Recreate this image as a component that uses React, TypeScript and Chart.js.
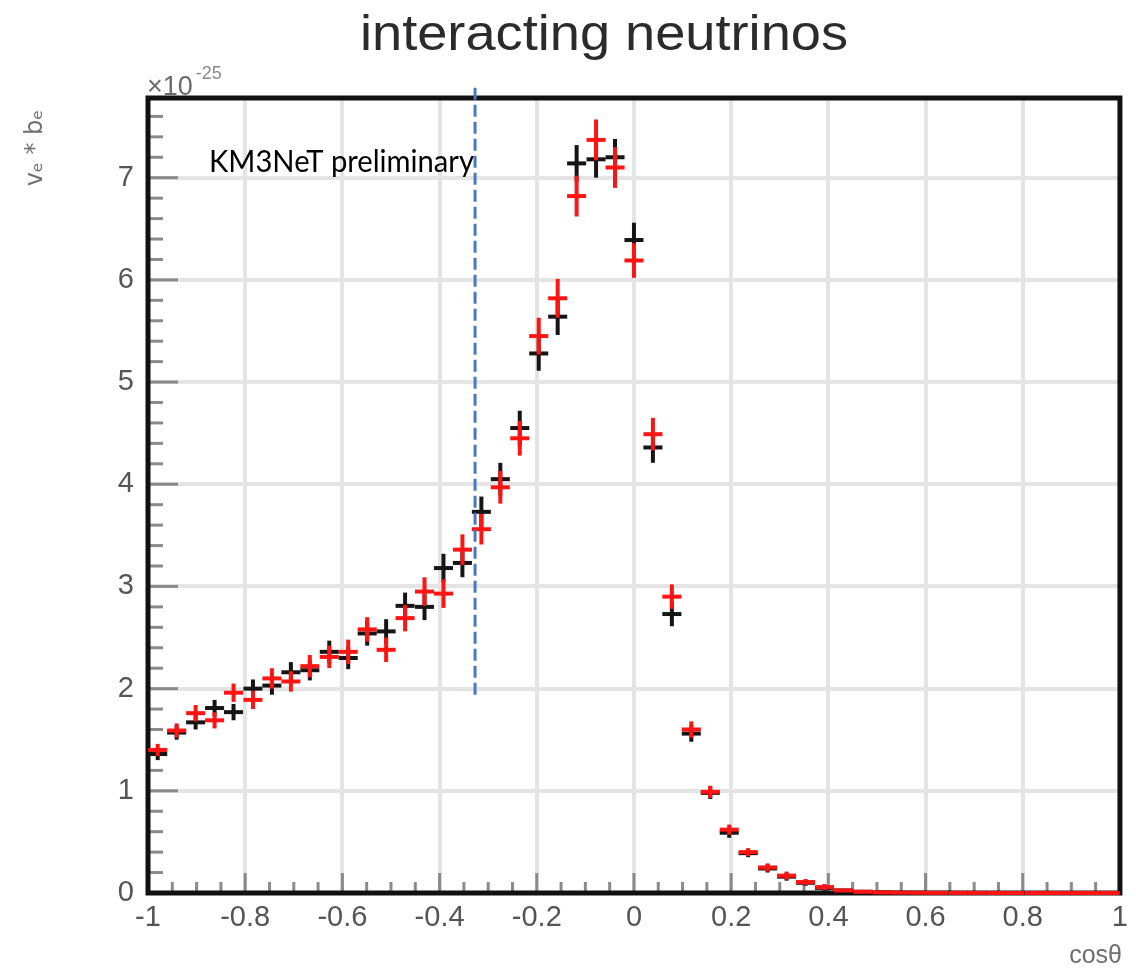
import React, { useEffect, useRef } from 'react';
import { Chart, registerables } from 'chart.js';

Chart.register(...registerables);

// 51 bins across cos(theta) in [-1, 1]
const binCenters = [
  -0.980, -0.941, -0.902, -0.863, -0.824, -0.784, -0.745, -0.706, -0.667, -0.627,
  -0.588, -0.549, -0.510, -0.471, -0.431, -0.392, -0.353, -0.314, -0.275, -0.235,
  -0.196, -0.157, -0.118, -0.078, -0.039, 0.0, 0.039, 0.078, 0.118, 0.157,
  0.196, 0.235, 0.275, 0.314, 0.353, 0.392, 0.431, 0.471, 0.510, 0.549,
  0.588, 0.627, 0.667, 0.706, 0.745, 0.784, 0.824, 0.863, 0.902, 0.941, 0.980,
];
const binHalfWidth = 0.0196;

const blackValues = [
  1.36, 1.57, 1.67, 1.81, 1.77, 2.0, 2.03, 2.16, 2.18, 2.36,
  2.3, 2.54, 2.56, 2.81, 2.8, 3.18, 3.23, 3.73, 4.05, 4.55,
  5.28, 5.64, 7.14, 7.18, 7.2, 6.39, 4.36, 2.73, 1.56, 0.98,
  0.59, 0.39, 0.24, 0.16, 0.1, 0.05, 0.025, 0.012, 0.006, 0.003,
  0.002, 0.001, 0.001, 0.0, 0.0, 0.0, 0.0, 0.0, 0.0, 0.0, 0.0,
];
const blackErrors = [
  0.04, 0.05, 0.05, 0.06, 0.06, 0.07, 0.07, 0.08, 0.08, 0.09,
  0.09, 0.1, 0.1, 0.11, 0.11, 0.12, 0.12, 0.13, 0.14, 0.15,
  0.15, 0.16, 0.16, 0.16, 0.16, 0.15, 0.13, 0.1, 0.06, 0.04,
  0.03, 0.02, 0.02, 0.02, 0.01, 0.01, 0.0, 0.0, 0.0, 0.0,
  0.0, 0.0, 0.0, 0.0, 0.0, 0.0, 0.0, 0.0, 0.0, 0.0, 0.0,
];
const redValues = [
  1.4, 1.59, 1.76, 1.69, 1.96, 1.89, 2.1, 2.07, 2.22, 2.31,
  2.36, 2.58, 2.38, 2.69, 2.95, 2.93, 3.36, 3.56, 3.97, 4.45,
  5.45, 5.82, 6.82, 7.37, 7.1, 6.19, 4.49, 2.9, 1.6, 0.99,
  0.62, 0.4, 0.25, 0.17, 0.107, 0.058, 0.025, 0.012, 0.006, 0.004,
  0.002, 0.001, 0.001, 0.001, 0.0, 0.0, 0.0, 0.0, 0.0, 0.0, 0.0,
];
const redErrors = [
  0.04, 0.05, 0.06, 0.06, 0.07, 0.07, 0.08, 0.08, 0.09, 0.09,
  0.1, 0.1, 0.1, 0.11, 0.12, 0.12, 0.13, 0.13, 0.14, 0.15,
  0.16, 0.17, 0.18, 0.18, 0.18, 0.15, 0.14, 0.1, 0.06, 0.04,
  0.03, 0.02, 0.02, 0.02, 0.01, 0.01, 0.0, 0.0, 0.0, 0.0,
  0.0, 0.0, 0.0, 0.0, 0.0, 0.0, 0.0, 0.0, 0.0, 0.0, 0.0,
];

const xRange = [-1, 1];
const yRange = [0, 7.78];
const xMajorStep = 0.2;
const xMinorStep = 0.05;
const yMajorStep = 1;
const yMinorStep = 0.2;

const cutLineX = -0.327;
const cutLineYFrom = 1.9;
const cutLineYTo = 7.88;

const titleText = 'interacting neutrinos';
const annotationText = 'KM3NeT preliminary';
const xTitleText = 'cosθ';
const yTitleText = 'vₑ * bₑ';
const exponentBase = '×10';
const exponentPower = '-25';

function drawFitted(
  ctx: CanvasRenderingContext2D,
  text: string,
  x: number,
  y: number,
  font: string,
  color: string,
  targetWidth: number,
  align: 'left' | 'center' | 'right'
) {
  ctx.save();
  ctx.font = font;
  ctx.fillStyle = color;
  ctx.textBaseline = 'alphabetic';
  const w = ctx.measureText(text).width;
  const sx = targetWidth > 0 ? targetWidth / w : 1;
  ctx.translate(x, y);
  ctx.scale(sx, 1);
  ctx.textAlign = align;
  ctx.fillText(text, 0, 0);
  ctx.restore();
}

export default function App() {
  const ref = useRef<HTMLCanvasElement>(null);

  useEffect(() => {
    const canvas = ref.current;
    if (!canvas) return;

    const overlay = {
      id: 'rootStyleOverlay',
      afterDatasetsDraw(chart: any) {
        const { ctx, chartArea: a, scales } = chart;
        const xs = scales.x;
        const ys = scales.y;
        ctx.save();

        // minor / major tick marks drawn inside the frame (ROOT style)
        ctx.strokeStyle = '#8a8a8a';
        ctx.lineWidth = 3;
        const nx = Math.round((xRange[1] - xRange[0]) / xMinorStep);
        for (let i = 0; i <= nx; i++) {
          const v = xRange[0] + i * xMinorStep;
          const major = Math.abs(v / xMajorStep - Math.round(v / xMajorStep)) < 1e-6;
          const p = xs.getPixelForValue(v);
          ctx.beginPath();
          ctx.moveTo(p, a.bottom);
          ctx.lineTo(p, a.bottom - (major ? 20 : 11));
          ctx.stroke();
        }
        const ny = Math.floor((yRange[1] - yRange[0]) / yMinorStep + 1e-6);
        for (let i = 0; i <= ny; i++) {
          const v = yRange[0] + i * yMinorStep;
          const major = Math.abs(v / yMajorStep - Math.round(v / yMajorStep)) < 1e-6;
          const p = ys.getPixelForValue(v);
          ctx.beginPath();
          ctx.moveTo(a.left, p);
          ctx.lineTo(a.left + (major ? 30 : 15), p);
          ctx.stroke();
        }

        // frame
        ctx.strokeStyle = '#111';
        ctx.lineWidth = 5;
        ctx.strokeRect(a.left, a.top, a.right - a.left, a.bottom - a.top);

        // error-bar crosses
        const drawSeries = (dsIndex: number, errs: number[], color: string) => {
          const ds = chart.data.datasets[dsIndex];
          ctx.strokeStyle = color;
          ctx.lineWidth = 4;
          ds.data.forEach((pt: any, i: number) => {
            const px = xs.getPixelForValue(pt.x);
            const pl = xs.getPixelForValue(pt.x - binHalfWidth);
            const pr = xs.getPixelForValue(pt.x + binHalfWidth);
            const py = ys.getPixelForValue(pt.y);
            const pt1 = ys.getPixelForValue(pt.y + errs[i]);
            const pb = ys.getPixelForValue(Math.max(0, pt.y - errs[i]));
            ctx.beginPath();
            ctx.moveTo(pl, py);
            ctx.lineTo(pr, py);
            ctx.stroke();
            if (Math.abs(pb - pt1) > 1) {
              ctx.beginPath();
              ctx.moveTo(px, pt1 - 2);
              ctx.lineTo(px, pb + 2);
              ctx.stroke();
            }
          });
        };
        drawSeries(0, blackErrors, '#151515');
        drawSeries(1, redErrors, '#ff1414');

        // dashed cut line
        ctx.strokeStyle = '#4a78c0';
        ctx.lineWidth = 3;
        ctx.setLineDash([12, 5]);
        const cx = xs.getPixelForValue(cutLineX);
        ctx.beginPath();
        ctx.moveTo(cx, ys.getPixelForValue(cutLineYTo));
        ctx.lineTo(cx, ys.getPixelForValue(cutLineYFrom));
        ctx.stroke();
        ctx.setLineDash([]);

        // texts
        drawFitted(ctx, titleText, 604, 50, '50px "Liberation Sans"', '#2b2b2b', 488, 'center');
        drawFitted(ctx, annotationText, 209, 172, '30px Lato', '#000', 265, 'left');
        drawFitted(ctx, exponentBase, 147, 95, '27px "Liberation Sans"', '#6a6a6a', 0, 'left');
        ctx.font = '27px "Liberation Sans"';
        const bw = ctx.measureText(exponentBase).width;
        drawFitted(ctx, exponentPower, 147 + bw + 3, 79, '18px "Liberation Sans"', '#8a8a8a', 0, 'left');
        drawFitted(ctx, xTitleText, 1122, 963, '25px "Liberation Sans"', '#6e6e6e', 0, 'right');

        ctx.save();
        ctx.translate(42, 148);
        ctx.rotate(-Math.PI / 2);
        ctx.font = '24px "DejaVu Sans"';
        ctx.fillStyle = '#6e6e6e';
        ctx.textAlign = 'center';
        ctx.fillText(yTitleText, 0, 0);
        ctx.restore();

        ctx.restore();
      },
    };

    const fmt = (v: any) => {
      const n = parseFloat(Number(v).toFixed(1));
      return Object.is(n, -0) ? '0' : String(n);
    };

    const chart = new Chart(canvas, {
      type: 'scatter',
      data: {
        datasets: [
          {
            label: 'black',
            data: binCenters.map((x, i) => ({ x, y: blackValues[i] })),
            pointRadius: 0,
            showLine: false,
            borderColor: '#151515',
            backgroundColor: '#151515',
          },
          {
            label: 'red',
            data: binCenters.map((x, i) => ({ x, y: redValues[i] })),
            pointRadius: 0,
            showLine: false,
            borderColor: '#ff1414',
            backgroundColor: '#ff1414',
          },
        ],
      },
      options: {
        animation: false,
        responsive: false,
        layout: { padding: { top: 98, right: 16, left: 0, bottom: 0 } },
        plugins: {
          legend: { display: false },
          title: { display: false },
          tooltip: { enabled: false },
        },
        scales: {
          x: {
            type: 'linear',
            min: xRange[0],
            max: xRange[1],
            ticks: {
              stepSize: xMajorStep,
              callback: (v: any) => fmt(v),
              color: '#555',
              font: { family: 'Liberation Sans', size: 29 },
              padding: 8,
              maxRotation: 0,
              autoSkip: false,
            },
            grid: { color: '#e4e4e4', lineWidth: 4, drawTicks: false },
            border: { display: false },
            afterFit: (s: any) => {
              s.height = 77;
            },
          },
          y: {
            type: 'linear',
            min: yRange[0],
            max: yRange[1],
            ticks: {
              stepSize: yMajorStep,
              callback: (v: any) => String(Math.round(Number(v))),
              color: '#555',
              font: { family: 'Liberation Sans', size: 29 },
              padding: 14,
            },
            grid: { color: '#e4e4e4', lineWidth: 4, drawTicks: false },
            border: { display: false },
            afterBuildTicks: (s: any) => {
              s.ticks = s.ticks.filter((t: any) => Math.abs(t.value - Math.round(t.value)) < 1e-6);
            },
            afterFit: (s: any) => {
              s.width = 148;
            },
          },
        },
      },
      plugins: [overlay],
    } as any);

    return () => chart.destroy();
  }, []);

  return (
    <div style={{ position: 'absolute', left: 0, top: 0, width: 1136, height: 970, background: '#fff' }}>
      <canvas ref={ref} width={1136} height={970} style={{ display: 'block' }} />
    </div>
  );
}
